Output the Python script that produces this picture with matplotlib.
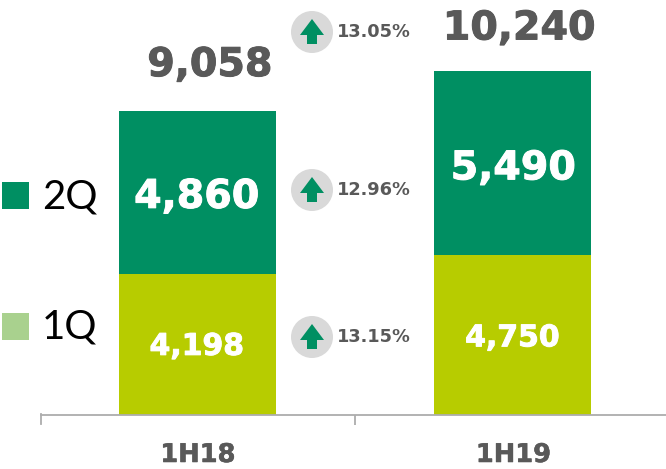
import matplotlib
matplotlib.use("Agg")
import matplotlib.pyplot as plt
import matplotlib.patheffects as pe
from matplotlib.patches import Circle, Polygon, Rectangle

periods = ["1H18", "1H19"]
q1_values = [4198, 4750]
q2_values = [4860, 5490]
totals = [9058, 10240]
changes = ["13.05%", "12.96%", "13.15%"]
change_y = [32, 190, 337]
legend_names = ["2Q", "1Q"]

GREEN = "#008F62"
LIME = "#B7CC00"
LEGEND_LIME = "#A9D18E"
GREY = "#595959"
AXIS_GREY = "#ADADAD"
BOLD = "DejaVu Sans"

W, H = 666, 469
fig = plt.figure(figsize=(W / 100, H / 100), dpi=100)

# overlay in pixel coordinates for the legend and the arrow badges
over = fig.add_axes([0, 0, 1, 1], zorder=3)
over.set_xlim(0, W)
over.set_ylim(H, 0)
over.axis("off")

AXIS_Y = 414.5
ax = fig.add_axes([40.5 / W, (H - AXIS_Y) / H, (W - 40.5) / W, AXIS_Y / H], zorder=4)
px_per_unit = 0.0335
ax.set_ylim(0, AXIS_Y / px_per_unit)
ax.set_xlim(-0.5, -0.5 + (W - 40.5) / 314.5)

xs = range(len(periods))
ax.bar(xs, q1_values, width=0.5, color=LIME, linewidth=0)
ax.bar(xs, q2_values, width=0.5, bottom=q1_values, color=GREEN, linewidth=0)


def heavy(colour, width=0.7):
    # the reference type is heavier than DejaVu Bold
    return [pe.withStroke(linewidth=width, foreground=colour)]


def label(i, text, base, dx, dy, colour, size):
    # dx, dy are pixel offsets from the top middle of the segment
    ax.annotate(text, xy=(i, base), xytext=(dx, dy), textcoords="offset pixels",
                ha="center", va="baseline", color=colour, fontsize=size,
                fontweight="bold", family=BOLD, annotation_clip=False,
                path_effects=heavy(colour))


q1_dx = [-1, 0]
q1_dy = [-81, -91]
q2_dx = [-1, 1]
q2_dy = [66, 76]
total_dx = [12, 7]
total_dy = [35, 32]
for i in xs:
    label(i, f"{q1_values[i]:,}", q1_values[i], q1_dx[i], q1_dy[i], "white", 21.5)
    label(i, f"{q2_values[i]:,}", q1_values[i], q2_dx[i], q2_dy[i], "white", 28.5)
    label(i, f"{totals[i]:,}", totals[i], total_dx[i], total_dy[i], GREY, 28.5)

ax.set_yticks([])
ax.set_xticks([0.5])
ax.set_xticklabels([""])
ax.tick_params(axis="x", length=7.5, width=1.3, color=AXIS_GREY)
for side in ["top", "right", "left"]:
    ax.spines[side].set_visible(False)
ax.spines["bottom"].set_color(AXIS_GREY)
ax.spines["bottom"].set_linewidth(1.3)
ax.patch.set_alpha(0)

# left end tick and category labels
over.plot([40.5, 40.5], [AXIS_Y, AXIS_Y + 10], color=AXIS_GREY, lw=1.3)
for i in xs:
    over.text(198 + i * 315.5, 462, periods[i], ha="center", va="baseline", color=GREY,
              fontsize=18.5, fontweight="bold", family=BOLD, path_effects=heavy(GREY, 0.4))

# legend
for name, colour, top, base in zip(legend_names, [GREEN, LEGEND_LIME], [182, 313], [208, 339]):
    over.add_patch(Rectangle((2, top), 27, 27, color=colour, linewidth=0))
    over.text(42, base, name, ha="left", va="baseline", color="black", fontsize=29, family="Lato")

# change badges
for pct, cy in zip(changes, change_y):
    over.add_patch(Circle((312, cy), 21, color="#D9D9D9", linewidth=0))
    over.add_patch(Polygon([(300, cy + 3), (312, cy - 13), (324, cy + 3), (317, cy + 3),
                            (317, cy + 12), (307, cy + 12), (307, cy + 3)],
                           closed=True, color=GREEN, linewidth=0))
    over.text(337, cy + 5, pct, ha="left", va="baseline", color=GREY,
              fontsize=12.8, fontweight="bold", family=BOLD)

fig.savefig("out.png", dpi=100)
